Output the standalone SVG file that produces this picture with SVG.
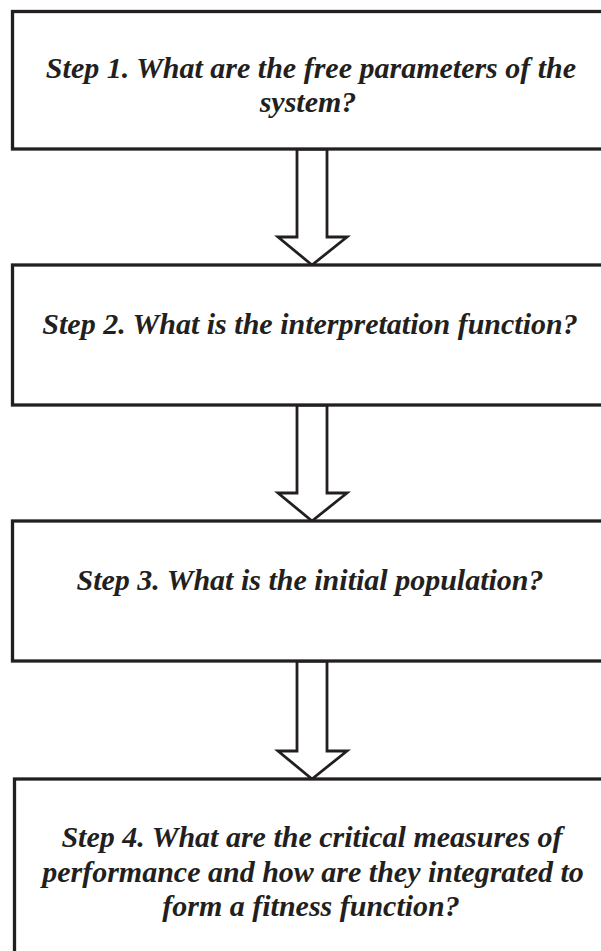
<svg xmlns="http://www.w3.org/2000/svg" width="601" height="951" viewBox="0 0 601 951">
<style>
.box{fill:#fff;stroke:#231f20;stroke-width:3.3}
.arr{fill:#fff;stroke:#231f20;stroke-width:2.8;stroke-linejoin:miter}
.t{font-family:"Liberation Serif","Times New Roman",serif;font-weight:bold;font-style:italic;font-size:30px;fill:#231f20;text-anchor:middle}
</style>
<rect width="601" height="951" fill="#fff"/>
<g id="connectors">
<polygon class="arr" points="297,149 327,149 327,237 347,237 312,265 278,237 297,237"/>
<polygon class="arr" points="297,405 327,405 327,493 347,493 312,521 278,493 297,493"/>
<polygon class="arr" points="297,661 327,661 327,751 347,751 312,779 278,751 297,751"/>
</g>
<g id="step1">
<rect class="box" x="12.5" y="11.5" width="620" height="137.5"/>
<text class="t" x="311" y="78">Step 1. What are the free parameters of the</text>
<text class="t" x="308" y="112">system?</text>
</g>
<g id="step2">
<rect class="box" x="12.5" y="265" width="620" height="140"/>
<text class="t" x="310" y="334">Step 2. What is the interpretation function?</text>
</g>
<g id="step3">
<rect class="box" x="12.5" y="521" width="620" height="140"/>
<text class="t" x="310" y="590">Step 3. What is the initial population?</text>
</g>
<g id="step4">
<rect class="box" x="14.5" y="779" width="620" height="200"/>
<text class="t" x="312" y="847">Step 4. What are the critical measures of</text>
<text class="t" x="313" y="882">performance and how are they integrated to</text>
<text class="t" x="311" y="916">form a fitness function?</text>
</g>
</svg>
